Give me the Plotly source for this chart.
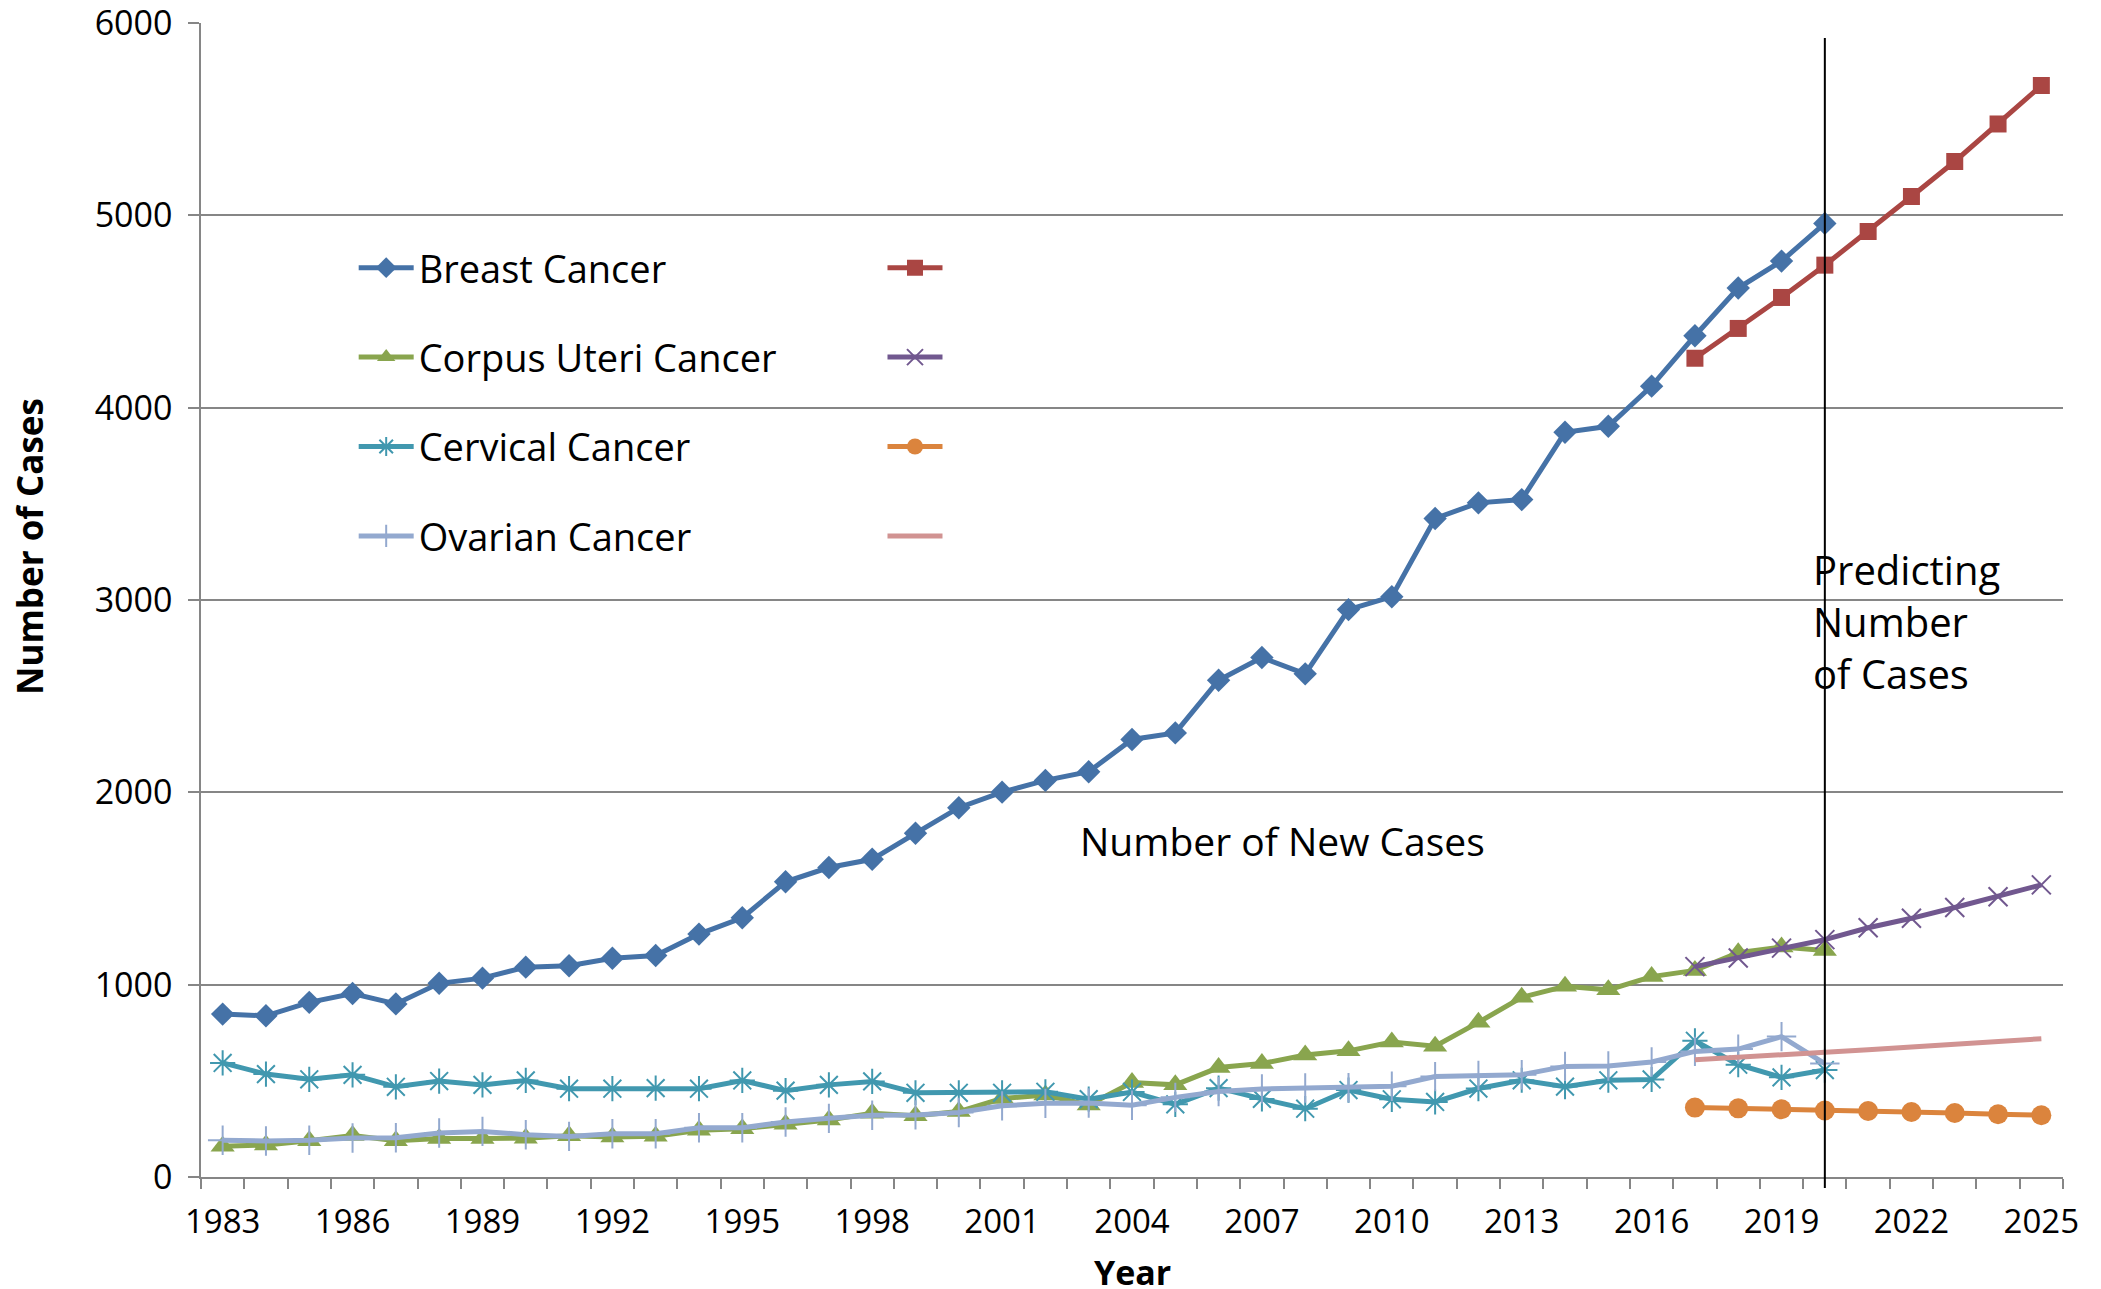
import plotly.graph_objects as go

# ---------------- data ----------------
years_obs = list(range(1983, 2021))
years_pred = list(range(2017, 2026))

breast = [847, 838, 908, 954, 900, 1007, 1034, 1091, 1098, 1137, 1152, 1263, 1348,
          1535, 1609, 1652, 1787, 1920, 2001, 2062, 2107, 2275, 2309, 2583, 2701,
          2616, 2950, 3017, 3424, 3505, 3522, 3872, 3903, 4112, 4374, 4622, 4762, 4958]
breast_pred = [4257, 4412, 4573, 4741, 4916, 5098, 5280, 5475, 5675]

corpus = [160, 166, 188, 216, 188, 200, 200, 202, 214, 208, 212, 243, 251,
          274, 296, 332, 318, 340, 408, 426, 375, 491, 479, 569, 590,
          634, 656, 702, 680, 804, 934, 992, 973, 1042, 1074, 1166, 1196, 1178]
corpus_pred = [1094, 1139, 1190, 1234, 1296, 1345, 1401, 1457, 1519]

cervical = [593, 535, 508, 531, 469, 499, 479, 502, 459, 459, 462, 459, 502,
            449, 479, 497, 438, 438, 438, 443, 405, 442, 378, 462, 406,
            355, 452, 404, 390, 460, 503, 470, 503, 507, 708, 584, 518, 556]
cervical_pred = [361, 357, 352, 346, 343, 338, 333, 326, 321]

ovarian = [191, 187, 191, 203, 204, 229, 237, 220, 211, 225, 225, 256, 256,
           286, 305, 321, 323, 335, 370, 383, 385, 373, 414, 444, 458,
           463, 464, 472, 522, 528, 532, 575, 577, 598, 653, 665, 730, 590]
ovarian_pred = [610, 622, 634, 645, 662, 676, 690, 705, 719]

series_names = ["Breast Cancer", "Corpus Uteri Cancer", "Cervical Cancer", "Ovarian Cancer"]
tick_years = list(range(1983, 2026, 3))
tick_labels = [str(y) for y in tick_years]
y_ticks = [0, 1000, 2000, 3000, 4000, 5000, 6000]
split_year = 2020

# ---------------- style ----------------
C_BLUE, C_RED = "#4572A7", "#AA4643"
C_GREEN, C_PURPLE = "#89A54E", "#71588F"
C_AQUA, C_ORANGE = "#4198AF", "#DB843D"
C_LBLUE, C_PINK = "#93A9CF", "#D19392"
GRID = "#868686"
LEG_FONT = dict(family="Open Sans", size=38, color="black")
TICK_FONT = dict(family="Open Sans", size=33, color="black")
YTICK_FONT = dict(family="Open Sans", size=34, color="black")
LW = 5

fig = go.Figure()

def add(x, y, color, symbol, size, name, legend, group, mline=0, show_marker=True):
    fig.add_trace(go.Scatter(
        x=x, y=y, mode="lines+markers" if show_marker else "lines",
        name=name, legend=legend, legendgroup=group,
        line=dict(color=color, width=LW),
        marker=dict(symbol=symbol, size=size, color=color,
                    line=dict(color=color, width=mline)),
    ))

add(years_obs, breast, C_BLUE, "diamond", 18, series_names[0], "legend", "a")
add(years_pred, breast_pred, C_RED, "square", 17, " ", "legend2", "a2")
add(years_obs, corpus, C_GREEN, "triangle-up", 21, series_names[1], "legend", "b")
add(years_pred, corpus_pred, C_PURPLE, "x-thin-open", 19, " ", "legend2", "b2", mline=2)
add(years_obs, cervical, C_AQUA, "asterisk-open", 21, series_names[2], "legend", "c", mline=2)
add(years_pred, cervical_pred, C_ORANGE, "circle", 20, " ", "legend2", "c2")
add(years_obs, ovarian, C_LBLUE, "cross-thin-open", 21, series_names[3], "legend", "d", mline=2)
add(years_pred, ovarian_pred, C_PINK, "line-ew", 1, " ", "legend2", "d2", show_marker=False)

# vertical separator at the split year
fig.add_shape(type="line", xref="x", yref="paper", x0=split_year, x1=split_year,
              y0=-0.0095, y1=0.987, line=dict(color="black", width=2), layer="above")

fig.add_annotation(text="Predicting<br>Number<br>of Cases", xref="paper", yref="paper",
                   x=0.8647, y=0.481, xanchor="left", yanchor="middle", align="left",
                   showarrow=False, font=dict(family="Open Sans", size=40, color="black"))
fig.add_annotation(text="Number of New Cases", xref="paper", yref="paper",
                   x=0.581, y=0.292, xanchor="center", yanchor="middle",
                   showarrow=False, font=dict(family="Open Sans", size=39, color="black"))
fig.add_annotation(text="Number of Cases", xref="paper", yref="paper", textangle=-90,
                   x=-0.0918, y=0.546, xanchor="center", yanchor="middle",
                   showarrow=False,
                   font=dict(family="Open Sans", size=35, color="black", weight="bold"))
fig.add_annotation(text="Year", xref="paper", yref="paper",
                   x=0.5, y=-0.082, xanchor="center", yanchor="middle",
                   showarrow=False,
                   font=dict(family="Open Sans", size=34, color="black", weight="bold"))

leg_common = dict(xanchor="left", yanchor="top", font=LEG_FONT, traceorder="grouped",
                  tracegroupgap=37, itemwidth=55, bgcolor="rgba(0,0,0,0)",
                  borderwidth=0, itemclick=False, itemdoubleclick=False)

fig.update_layout(
    width=2101, height=1289,
    margin=dict(l=201, r=38, t=23, b=112, pad=0),
    paper_bgcolor="white", plot_bgcolor="white",
    showlegend=True,
    legend=dict(x=0.082, y=0.815, **leg_common),
    legend2=dict(x=0.366, y=0.815, **leg_common),
    xaxis=dict(
        range=[1982.5, 2025.5], tickmode="array", tickvals=tick_years, ticktext=tick_labels,
        ticks="", showgrid=False, zeroline=False, showline=True, automargin=False,
        linecolor=GRID, linewidth=1.5, tickfont=TICK_FONT, ticklabelstandoff=15,
        ticklabeloverflow="allow",
        minor=dict(tickmode="array", tickvals=[y - 0.5 for y in range(1983, 2027)],
                   ticks="outside", ticklen=10, tickcolor=GRID, tickwidth=1.5, showgrid=False),
    ),
    yaxis=dict(
        range=[0, 6000], tickmode="array", tickvals=y_ticks, tickformat="d",
        showgrid=True, gridcolor=GRID, gridwidth=1.5, zeroline=False, automargin=False,
        showline=True, linecolor=GRID, linewidth=1.5,
        ticks="outside", ticklen=11, tickcolor=GRID, tickwidth=1.5,
        tickfont=YTICK_FONT, ticklabelstandoff=9, ticklabeloverflow="allow",
    ),
)

fig.write_html("out.html", config={"displayModeBar": False},
               post_script="document.body.style.margin='0';")
